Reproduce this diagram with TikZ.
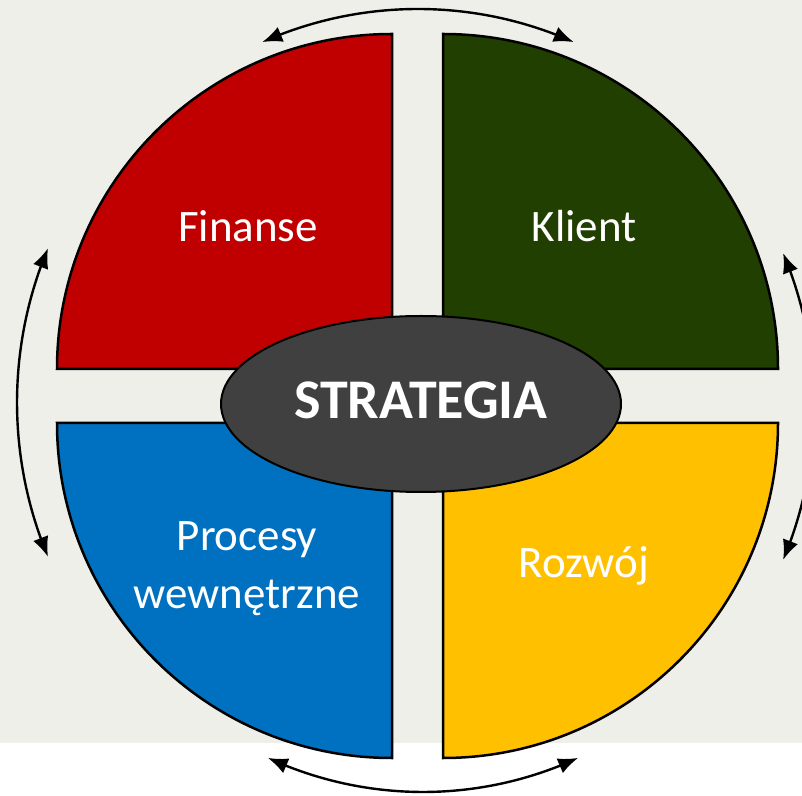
\documentclass[tikz,border=0pt]{standalone}
\usepackage{fontspec}
\setmainfont{Carlito}
\usetikzlibrary{arrows.meta,bending,shapes.geometric}
\definecolor{finred}{HTML}{C00000}
\definecolor{kligreen}{HTML}{203F00}
\definecolor{procblue}{HTML}{0070C0}
\definecolor{rozyellow}{HTML}{FFC000}
\definecolor{hubgray}{HTML}{404040}
\definecolor{paper}{HTML}{EFEFEA}

\begin{document}
\begin{tikzpicture}[x=1pt,y=1pt,
    quarter/.style={draw=black,line width=2.5pt,line join=miter},
    caption/.style={text=white,font=\fontsize{45}{58}\selectfont,align=center},
    cyclearrow/.style={<->,line width=2.4pt,>={Latex[length=20pt,width=16pt]}}]
    \clip (0,0) rectangle (802,795);
    \fill[paper] (0,0) rectangle (802,795);
    \fill[white] (0,0) rectangle (802,52);
    % four perspectives
    \draw[quarter,fill=finred] (392,426) -- (57,426) arc[start angle=180,end angle=90,radius=335] -- cycle;
    \draw[quarter,fill=kligreen] (443,426) -- (443,761) arc[start angle=90,end angle=0,radius=335] -- cycle;
    \draw[quarter,fill=procblue] (392,372) -- (57,372) arc[start angle=180,end angle=270,radius=335] -- cycle;
    \draw[quarter,fill=rozyellow] (443,372) -- (778,372) arc[start angle=0,end angle=-90,radius=335] -- cycle;
    \node[caption,anchor=base] at (248,553) (fin) {Finanse};
    \node[caption,anchor=base] at (584,553) (kli) {Klient};
    \node[caption] at (247,226) (proc) {Procesy\\wewnętrzne};
    \node[caption,anchor=base] at (584,218) (roz) {Rozwój};
    % centre
    \node[ellipse,draw=black,line width=2pt,fill=hubgray,minimum width=400,minimum height=176,
        text depth=8pt,text=white,font=\fontsize{56}{60}\selectfont\bfseries] at (421,391) (strat) {STRATEGIA};
    % arrows round the circle
    \coordinate (topc) at (418,403);
    \coordinate (leftc) at (417,392.5);
    \coordinate (botc) at (423,373);
    \coordinate (rightc) at (417,388.5);
    \draw[cyclearrow] ([shift={(114:383)}]topc) arc[start angle=114,end angle=66,radius=383];
    \draw[cyclearrow] ([shift={(157.3:400)}]leftc) arc[start angle=157.3,end angle=202.7,radius=400];
    \draw[cyclearrow] ([shift={(245.2:370)}]botc) arc[start angle=245.2,end angle=294.8,radius=370];
    \draw[cyclearrow] ([shift={(-22.75:397)}]rightc) arc[start angle=-22.75,end angle=22.75,radius=397];
\end{tikzpicture}
\end{document}
